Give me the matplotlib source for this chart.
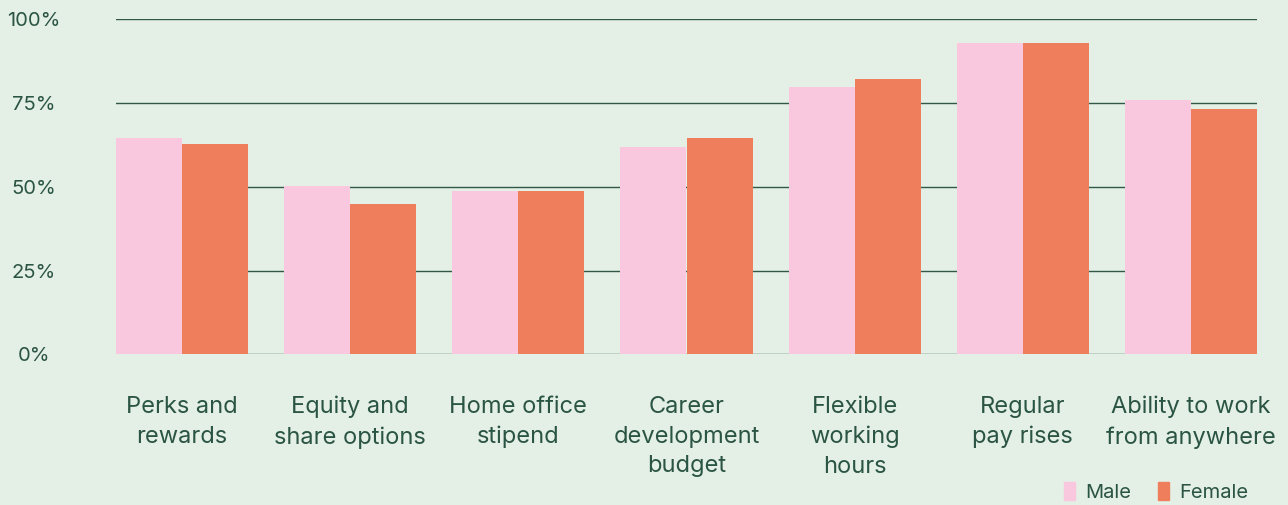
import matplotlib
matplotlib.use("Agg")
from matplotlib import pyplot as plt
from matplotlib.patches import Patch
import numpy as np

categories = ["Perks and\nrewards", "Equity and\nshare options", "Home office\nstipend",
              "Career\ndevelopment\nbudget", "Flexible\nworking\nhours", "Regular\npay rises",
              "Ability to work\nfrom anywhere"]
male = [64.6, 50.2, 48.7, 61.9, 79.8, 92.9, 75.9]
female = [62.8, 44.9, 48.7, 64.6, 82.2, 92.9, 73.2]
yticks = [0, 25, 50, 75, 100]
ytick_labels = ["0%", "25%", "50%", "75%", "100%"]

bg = "#e4efe6"
txt = "#2a5443"
pink = "#f9c8de"
orange = "#ef7e5c"

plt.rcParams["font.family"] = ["Inter", "DejaVu Sans"]

fig = plt.figure(figsize=(12.88, 5.05), dpi=100, facecolor=bg)
ax = fig.add_axes([116 / 1288, (505 - 354.3) / 505, 1141 / 1288, 335 / 505])
ax.set_facecolor(bg)

x = np.arange(len(categories))
w = 66 / 168
ax.bar(x - w / 2, male, width=w, color=pink, zorder=2)
ax.bar(x + w / 2, female, width=w, color=orange, zorder=2)

for t in yticks:
    ax.axhline(t, color="#2f5847", lw=1.0, zorder=1)

ax.set_xlim(-w, len(categories) - 1 + w)
ax.set_ylim(0, 100)
for s in ax.spines.values():
    s.set_visible(False)

ax.set_yticks(yticks)
ax.set_yticklabels(ytick_labels, fontsize=14.5, color=txt, ha="center")
ax.tick_params(axis="y", length=0, pad=59)

ax.set_xticks(x)
ax.set_xticklabels(categories, fontsize=17, color=txt, linespacing=1.45)
ax.tick_params(axis="x", length=0, pad=30)

handles = [Patch(color=pink, label="Male"), Patch(color=orange, label="Female")]
fig.legend(handles=handles, loc="lower right", bbox_to_anchor=(0.983, -0.03), ncol=2,
           frameon=False, fontsize=14.5, labelcolor=txt, handlelength=0.55, handleheight=1.0,
           handletextpad=0.5, columnspacing=1.3)

fig.savefig("out.png", dpi=100, facecolor=bg)
